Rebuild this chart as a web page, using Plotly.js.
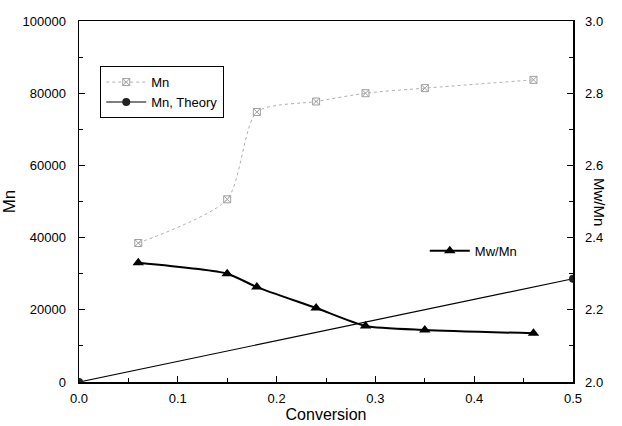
<!DOCTYPE html>
<html>
<head>
<meta charset="utf-8">
<script src="https://cdn.plot.ly/plotly-3.0.1.min.js"></script>
<style>html,body{margin:0;padding:0;background:#fff}#chart{width:622px;height:426px}</style>
</head>
<body>
<div id="chart"></div>
<script>
// Data
const mnConversion = [0.06, 0.15, 0.18, 0.24, 0.29, 0.35, 0.46];
const mnValues = [38500, 50600, 74800, 77700, 80000, 81400, 83700];
const theoryConversion = [0, 0.5];
const theoryValues = [0, 28600];
const pdiConversion = [0.06, 0.15, 0.18, 0.24, 0.29, 0.35, 0.46];
const pdiValues = [2.33, 2.30, 2.263, 2.205, 2.155, 2.144, 2.135];
const xTicks = [0, 0.1, 0.2, 0.3, 0.4, 0.5];
const yTicks = [0, 20000, 40000, 60000, 80000, 100000];
const y2Ticks = [2.0, 2.2, 2.4, 2.6, 2.8, 3.0];

const font = 'Liberation Sans, Arial, sans-serif';

const traces = [
  {x: mnConversion, y: mnValues, name: 'Mn', mode: 'lines+markers',
   line: {color: '#b0b0b0', width: 1, shape: 'spline', smoothing: 0.7, dash: 'dot'},
   marker: {symbol: 'square-x-open', size: 7, color: '#a0a0a0', line: {width: 1, color: '#a0a0a0'}},
   legend: 'legend'},
  {x: theoryConversion, y: theoryValues, name: 'Mn, Theory', mode: 'lines+markers',
   line: {color: '#000', width: 1.2},
   marker: {symbol: 'circle', size: 8, color: '#222'},
   legend: 'legend'},
  {x: pdiConversion, y: pdiValues, name: 'Mw/Mn', mode: 'lines+markers', yaxis: 'y2',
   line: {color: '#000', width: 2, shape: 'spline', smoothing: 0.6},
   marker: {symbol: 'triangle-up', size: 10, color: '#000'},
   legend: 'legend2'}
];

const axisCommon = {showgrid: false, zeroline: false, showline: true, linecolor: '#000', linewidth: 1.5,
  ticks: 'inside', ticklen: 6, tickcolor: '#000', ticklabelstandoff: 6,
  tickfont: {family: font, size: 13, color: '#000'}};

const layout = {
  width: 622, height: 426,
  margin: {l: 79, r: 49, t: 21, b: 44},
  paper_bgcolor: '#fff', plot_bgcolor: '#fff',
  font: {family: font, color: '#000'},
  xaxis: Object.assign({}, axisCommon, {range: [0, 0.5], tickvals: xTicks, tickformat: '.1f',
    mirror: true, ticklabelstandoff: 4,
    minor: {dtick: 0.05, ticks: 'inside', ticklen: 4, tickcolor: '#000'},
    title: {text: 'Conversion', font: {family: font, size: 16}, standoff: 1}}),
  yaxis: Object.assign({}, axisCommon, {range: [0, 100000], tickvals: yTicks, tickformat: 'd',
    ticklabelstandoff: 9,
    minor: {dtick: 10000, ticks: 'inside', ticklen: 4, tickcolor: '#000'},
    title: {text: 'Mn', font: {family: font, size: 17}, standoff: 6}}),
  yaxis2: Object.assign({}, axisCommon, {range: [2.0, 3.0], tickvals: y2Ticks, tickformat: '.1f',
    overlaying: 'y', side: 'right', ticklabelstandoff: 8,
    minor: {dtick: 0.1, ticks: 'inside', ticklen: 4, tickcolor: '#000'}}),
  legend: {x: 0.043, y: 0.875, xanchor: 'left', yanchor: 'top', bgcolor: '#fff',
    bordercolor: '#000', borderwidth: 1, font: {family: font, size: 13}, tracegroupgap: 0,
    itemwidth: 40},
  legend2: {x: 0.7, y: 0.405, xanchor: 'left', yanchor: 'top', bgcolor: 'rgba(0,0,0,0)',
    borderwidth: 0, font: {family: font, size: 13}, itemwidth: 40},
  annotations: [{text: 'Mw/Mn', xref: 'paper', yref: 'paper', x: 1.075, y: 0.5,
    showarrow: false, textangle: 90, font: {family: font, size: 15}}]
};

Plotly.newPlot('chart', traces, layout, {displayModeBar: false, staticPlot: true});
</script>
</body>
</html>
